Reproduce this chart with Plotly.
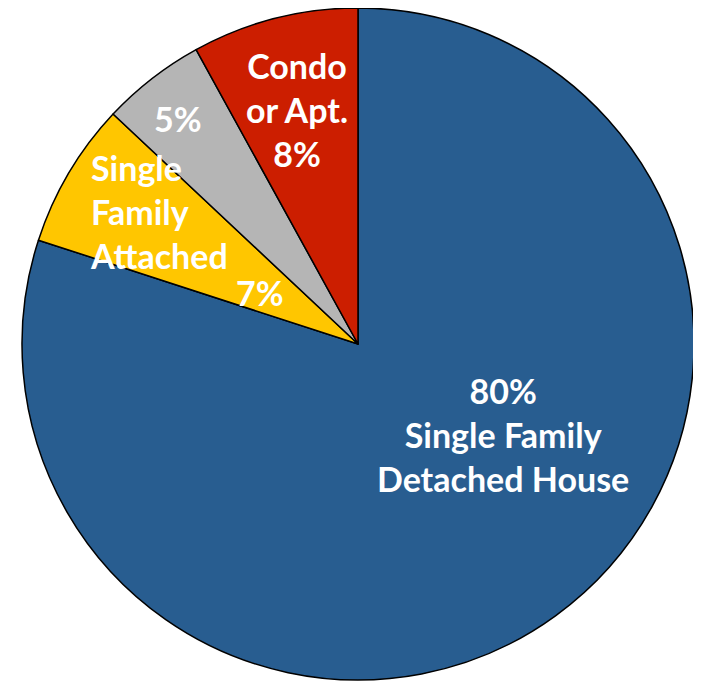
import plotly.graph_objects as go

# Data
categories = ["Single Family Detached House", "Single Family Attached", "Other", "Condo or Apt."]
shares = [80, 7, 5, 8]
colors = ["#285D90", "#FFC600", "#B5B5B5", "#CC1E00"]

W, H = 701, 681
OFF = 8  # page body margin offset

fig = go.Figure(go.Pie(
    labels=categories,
    values=shares,
    sort=False,
    direction="clockwise",
    rotation=0,
    textinfo="none",
    hoverinfo="label+percent",
    marker=dict(colors=colors, line=dict(color="#000000", width=1.5)),
    domain=dict(x=[14 / W, 686 / W], y=[9 / H, 1.0]),
    showlegend=False,
))

font = dict(family="Lato, 'Open Sans', sans-serif", size=34, color="white")

def ann(text, px, py, align="center", xanchor="center"):
    return dict(text=text, x=(px - OFF) / W, y=1 - (py - OFF) / H, xref="paper", yref="paper",
                xanchor=xanchor, yanchor="middle", align=align, showarrow=False,
                font=font)

annotations = [
    ann(f"<b>{shares[0]}%<br>Single Family<br>Detached House</b>", 503, 434),
    ann("<b>Single<br>Family<br>Attached</b>", 88, 211, align="left", xanchor="left"),
    ann(f"<b>{shares[1]}%</b>", 260, 293),
    ann(f"<b>{shares[2]}%</b>", 178, 118),
    ann(f"<b>Condo<br>or Apt.<br>{shares[3]}%</b>", 297, 109),
]

fig.update_layout(
    width=W, height=H,
    margin=dict(l=0, r=0, t=0, b=0),
    paper_bgcolor="white",
    plot_bgcolor="white",
    annotations=annotations,
)

fig.write_html("out.html")
